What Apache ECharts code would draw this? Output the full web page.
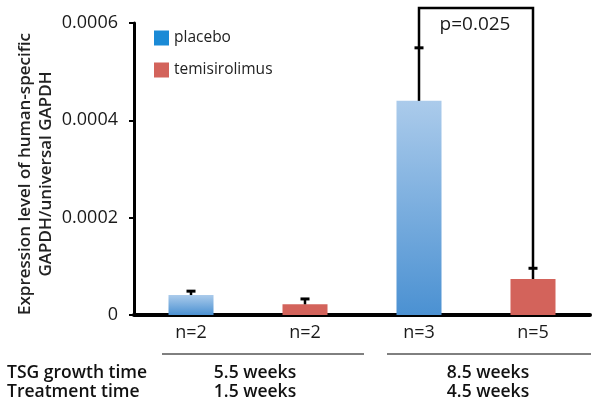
<!DOCTYPE html>
<html><head><meta charset="utf-8">
<script src="https://cdn.jsdelivr.net/npm/echarts@6/dist/echarts.min.js"></script>
<style>html,body{margin:0;padding:0;background:#fff}#c{width:600px;height:409px}</style>
</head><body><div id="c"></div>
<script>
const categories = ['n=2', 'n=2', 'n=3', 'n=5'];
const placebo = [0.000041, '-', 0.000440, '-'];
const temisirolimus = ['-', 0.000022, '-', 0.000074];
const errorTop = [0.000049, 0.000033, 0.000549, 0.000096];
const yTicks = [0, 0.0002, 0.0004, 0.0006];
const yTitle = 'Expression level of human-specific\nGAPDH/universal GAPDH';
const bracket = { from: 2, to: 3, top: 0.000631, label: 'p=0.025' };
const groupRows = ['TSG growth time', 'Treatment time'];
const group1 = ['5.5 weeks', '1.5 weeks'];
const group2 = ['8.5 weeks', '4.5 weeks'];

const FONT = '"Open Sans", "Noto Sans", sans-serif';
const chart = echarts.init(document.getElementById('c'));

const errData = errorTop.map((v, i) => {
  const base = placebo[i] !== '-' ? placebo[i] : temisirolimus[i];
  return [i, base, v];
});

const txt = (x, y, text, size, weight, align) => ({
  type: 'text', x: x, y: y,
  style: { text: text, fontFamily: FONT, fontSize: size, fontWeight: weight, fill: '#111',
           align: align || 'center', verticalAlign: 'middle' }
});

chart.setOption({
  animation: false,
  grid: { left: 134, right: 10, top: 23, bottom: 94 },
  legend: {
    orient: 'vertical', left: 154, top: 30, padding: 0, itemWidth: 15, itemHeight: 15, itemGap: 16,
    icon: 'rect',
    textStyle: { fontFamily: FONT, fontSize: 15.5, color: '#222' },
    data: [
      { name: 'placebo', itemStyle: { color: '#1a8ad6' } },
      { name: 'temisirolimus', itemStyle: { color: '#d3635b' } }
    ]
  },
  xAxis: {
    type: 'category', data: categories,
    axisLine: { lineStyle: { color: '#000', width: 4 } },
    axisTick: { show: false },
    axisLabel: { fontFamily: FONT, fontSize: 18, color: '#1a1a1a', margin: 9 }
  },
  yAxis: {
    type: 'value', min: 0, max: 0.0006, interval: 0.0002,
    axisLine: { show: true, lineStyle: { color: '#000', width: 3 } },
    axisTick: { show: true, length: 5, lineStyle: { color: '#000', width: 2 } },
    splitLine: { show: false },
    axisLabel: {
      fontFamily: FONT, fontSize: 18, color: '#1a1a1a', margin: 16,
      formatter: v => (Math.abs(v) < 1e-12 ? '0' : v.toFixed(4))
    }
  },
  series: [
    {
      name: 'placebo', type: 'bar', data: placebo, barWidth: 45, barGap: '-100%',
      itemStyle: {
        color: new echarts.graphic.LinearGradient(0, 0, 0, 1, [
          { offset: 0, color: '#abcbeb' }, { offset: 1, color: '#4b91d2' }
        ])
      }
    },
    {
      name: 'temisirolimus', type: 'bar', data: temisirolimus, barWidth: 45, barGap: '-100%',
      itemStyle: { color: '#d3635b' }
    },
    {
      type: 'custom', data: errData, z: 5, silent: true,
      renderItem: (params, api) => {
        const x = api.value(0);
        const p0 = api.coord([x, api.value(1)]);
        const p1 = api.coord([x, api.value(2)]);
        const s = { stroke: '#000', lineWidth: 2.5 };
        return { type: 'group', children: [
          { type: 'line', shape: { x1: p0[0], y1: p0[1], x2: p1[0], y2: p1[1] }, style: s },
          { type: 'line', shape: { x1: p1[0] - 4.5, y1: p1[1], x2: p1[0] + 4.5, y2: p1[1] }, style: { stroke: '#000', lineWidth: 3 } }
        ]};
      }
    },
    {
      type: 'custom', data: [[bracket.from, bracket.to, bracket.top, errorTop[bracket.from], errorTop[bracket.to]]],
      z: 6, silent: true, clip: false,
      renderItem: (params, api) => {
        const a = api.coord([api.value(0), api.value(3)]);
        const b = api.coord([api.value(1), api.value(4)]);
        const t = api.coord([api.value(0), api.value(2)])[1];
        return { type: 'group', children: [
          { type: 'polyline', shape: { points: [[a[0], a[1]], [a[0], t], [b[0], t], [b[0], b[1]]] },
            style: { stroke: '#000', lineWidth: 2.5, fill: null } },
          { type: 'text', x: (a[0] + b[0]) / 2 - 1, y: t + 17,
            style: { text: bracket.label, fontFamily: FONT, fontSize: 19, fill: '#1a1a1a', align: 'center', verticalAlign: 'middle' } }
        ]};
      }
    }
  ],
  graphic: [
    { type: 'text', x: 36, y: 174, rotation: Math.PI / 2,
      style: { text: yTitle, fontFamily: FONT, fontSize: 17, fontWeight: 600, fill: '#222', lineHeight: 21,
               align: 'center', verticalAlign: 'middle' } },
    { type: 'line', shape: { x1: 162, y1: 354, x2: 364, y2: 354 }, style: { stroke: '#000', lineWidth: 1 } },
    { type: 'line', shape: { x1: 387, y1: 354, x2: 591, y2: 354 }, style: { stroke: '#000', lineWidth: 1 } },
    txt(7, 373, groupRows[0], 17.5, 600, 'left'),
    txt(7, 392, groupRows[1], 17.5, 600, 'left'),
    txt(255, 373, group1[0], 17.5, 600),
    txt(255, 392, group1[1], 17.5, 600),
    txt(488, 373, group2[0], 17.5, 600),
    txt(488, 392, group2[1], 17.5, 600)
  ]
});
</script></body></html>
